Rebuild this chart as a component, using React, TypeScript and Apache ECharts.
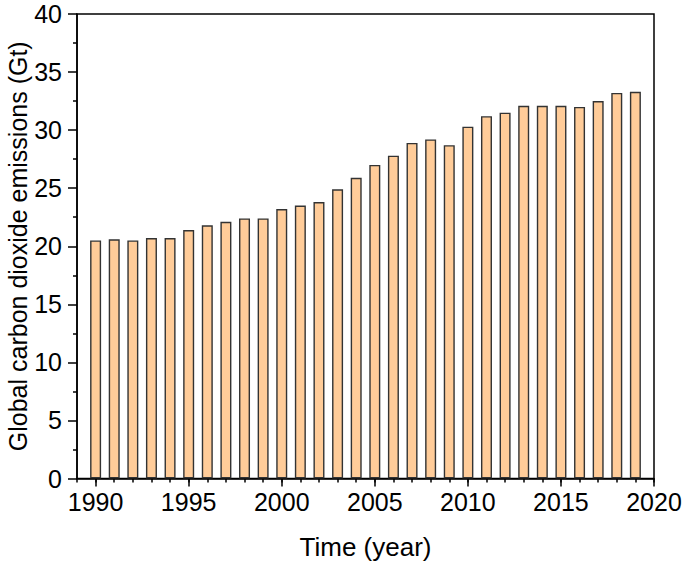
import React, { useEffect, useRef } from "react";
import * as echarts from "echarts";

const years = [1990, 1991, 1992, 1993, 1994, 1995, 1996, 1997, 1998, 1999, 2000, 2001, 2002, 2003, 2004, 2005, 2006, 2007, 2008, 2009, 2010, 2011, 2012, 2013, 2014, 2015, 2016, 2017, 2018, 2019];
const emissions = [20.5, 20.6, 20.5, 20.7, 20.7, 21.4, 21.8, 22.1, 22.4, 22.4, 23.2, 23.5, 23.8, 24.9, 25.9, 27.0, 27.8, 28.9, 29.2, 28.7, 30.3, 31.2, 31.5, 32.1, 32.1, 32.1, 32.0, 32.5, 33.2, 33.3];
const majorYearTicks = [1990, 1995, 2000, 2005, 2010, 2015, 2020];
const minorYearTicks = [1989, 1990, 1991, 1992, 1993, 1994, 1995, 1996, 1997, 1998, 1999, 2000, 2001, 2002, 2003, 2004, 2005, 2006, 2007, 2008, 2009, 2010, 2011, 2012, 2013, 2014, 2015, 2016, 2017, 2018, 2019, 2020];
const xTitle = "Time (year)";
const yTitle = "Global carbon dioxide emissions (Gt)";

const FONT = "Liberation Sans, Arial, sans-serif";

export default function App() {
  const ref = useRef<HTMLDivElement>(null);
  useEffect(() => {
    if (!ref.current) return;
    const chart = echarts.init(ref.current, null, { renderer: "svg" });
    const lineStyle = { color: "#000", width: 1.5 };
    chart.setOption({
      animation: false,
      backgroundColor: "#fff",
      grid: {
        left: 77,
        right: 31,
        top: 14,
        bottom: 86.5,
        show: true,
        borderColor: "#000",
        borderWidth: 1.5,
        containLabel: false,
        outerBoundsMode: "none",
      },
      xAxis: [
        {
          type: "value",
          min: 1989,
          max: 2020,
          position: "bottom",
          axisLine: { show: true, lineStyle },
          axisTick: { show: true, customValues: majorYearTicks, length: 8, inside: false, lineStyle },
          axisLabel: {
            show: true,
            customValues: majorYearTicks,
            margin: 11,
            fontSize: 25,
            color: "#000",
            fontFamily: FONT,
            formatter: (v: number) => String(v),
          },
          splitLine: { show: false },
          name: xTitle,
          nameLocation: "middle",
          nameGap: 55,
          nameMoveOverlap: false,
          nameTextStyle: { fontSize: 26, color: "#000", fontFamily: FONT },
        },
        {
          type: "value",
          min: 1989,
          max: 2020,
          position: "bottom",
          axisLine: { show: false },
          axisTick: { show: true, customValues: minorYearTicks, length: 4, inside: false, lineStyle },
          axisLabel: { show: false },
          splitLine: { show: false },
        },
      ],
      yAxis: {
        type: "value",
        min: 0,
        max: 40,
        interval: 5,
        axisLine: { show: true, lineStyle },
        axisTick: { show: true, length: 9, lineStyle },
        minorTick: { show: true, splitNumber: 2, length: 4, lineStyle },
        axisLabel: { margin: 15, fontSize: 25, color: "#000", fontFamily: FONT },
        splitLine: { show: false },
        name: yTitle,
        nameLocation: "middle",
        nameGap: 47,
        nameMoveOverlap: false,
        nameTextStyle: { fontSize: 25, color: "#000", fontFamily: FONT },
      },
      series: [
        {
          type: "bar",
          xAxisIndex: 0,
          data: years.map((y, i) => [y, emissions[i]]),
          barWidth: 11,
          itemStyle: { color: "#FFCC99", borderColor: "#333", borderWidth: 1.4 },
        },
      ],
    });
    return () => chart.dispose();
  }, []);
  return <div ref={ref} style={{ position: "absolute", left: 0, top: 0, width: 685, height: 565 }} />;
}
